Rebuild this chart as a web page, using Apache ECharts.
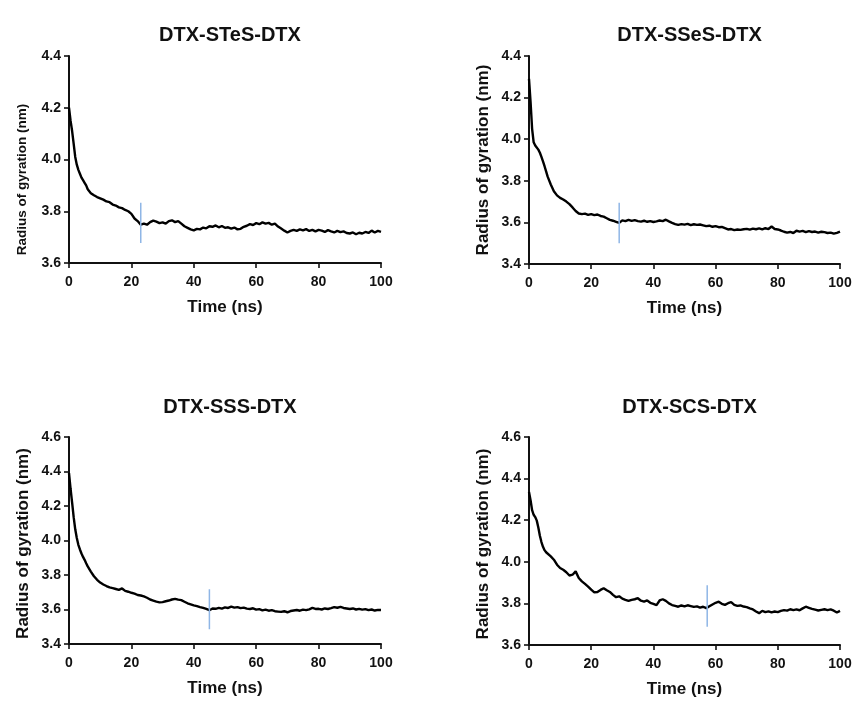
<!DOCTYPE html>
<html>
<head>
<meta charset="utf-8">
<script src="https://cdn.jsdelivr.net/npm/echarts@6/dist/echarts.min.js"></script>
<style>html,body{margin:0;padding:0;background:#fff}#c{width:855px;height:702px}</style>
</head>
<body>
<div id="c"></div>
<script>
// Time points (ns)
var timeNs = [0,0.5,1,1.5,2,2.5,3,3.5,4,4.5,5,5.5,6,7,8,9,10,11,12,13,14,15,16,17,18,19,20,21,22,23,24,25,26,27,28,29,30,31,32,33,34,35,36,37,38,39,40,41,42,43,44,45,46,47,48,49,50,51,52,53,54,55,56,57,58,59,60,61,62,63,64,65,66,67,68,69,70,71,72,73,74,75,76,77,78,79,80,81,82,83,84,85,86,87,88,89,90,91,92,93,94,95,96,97,98,99,100];

var panelTitles = ["DTX-STeS-DTX","DTX-SSeS-DTX","DTX-SSS-DTX","DTX-SCS-DTX"];

var rgSTeS = [4.20,4.15,4.11,4.06,4.01,3.98,3.96,3.945,3.93,3.92,3.91,3.90,3.885,3.87,3.862,3.855,3.850,3.845,3.838,3.835,3.826,3.822,3.815,3.812,3.805,3.80,3.79,3.772,3.762,3.748,3.752,3.748,3.758,3.764,3.760,3.754,3.757,3.752,3.762,3.765,3.758,3.762,3.752,3.742,3.736,3.730,3.726,3.732,3.730,3.737,3.734,3.742,3.740,3.745,3.738,3.743,3.736,3.738,3.733,3.737,3.730,3.732,3.740,3.744,3.750,3.747,3.754,3.750,3.757,3.752,3.755,3.748,3.752,3.741,3.733,3.725,3.718,3.724,3.728,3.724,3.730,3.726,3.731,3.724,3.728,3.722,3.728,3.725,3.720,3.727,3.722,3.718,3.724,3.719,3.722,3.716,3.714,3.718,3.711,3.717,3.714,3.720,3.716,3.725,3.718,3.724,3.720];

var rgSSeS = [4.29,4.18,4.05,3.985,3.97,3.962,3.95,3.935,3.915,3.893,3.87,3.845,3.82,3.782,3.75,3.73,3.718,3.71,3.70,3.688,3.672,3.655,3.643,3.64,3.642,3.636,3.640,3.635,3.638,3.631,3.628,3.62,3.612,3.608,3.603,3.598,3.610,3.606,3.612,3.607,3.611,3.606,3.604,3.608,3.603,3.606,3.602,3.605,3.609,3.606,3.613,3.605,3.598,3.592,3.588,3.592,3.589,3.593,3.587,3.591,3.588,3.590,3.586,3.582,3.584,3.579,3.582,3.577,3.578,3.572,3.566,3.568,3.563,3.566,3.564,3.567,3.569,3.565,3.570,3.567,3.571,3.566,3.572,3.568,3.580,3.568,3.566,3.561,3.555,3.551,3.554,3.549,3.560,3.556,3.559,3.553,3.558,3.554,3.556,3.551,3.555,3.553,3.549,3.551,3.546,3.550,3.556];

var rgSSS = [4.39,4.30,4.22,4.135,4.065,4.015,3.975,3.948,3.925,3.905,3.888,3.868,3.850,3.820,3.793,3.772,3.756,3.745,3.736,3.728,3.724,3.719,3.714,3.722,3.708,3.703,3.697,3.692,3.684,3.681,3.676,3.668,3.658,3.652,3.646,3.641,3.643,3.648,3.652,3.658,3.662,3.657,3.654,3.645,3.636,3.630,3.624,3.620,3.614,3.609,3.603,3.596,3.606,3.604,3.609,3.605,3.612,3.609,3.617,3.611,3.614,3.608,3.611,3.605,3.603,3.607,3.599,3.602,3.595,3.599,3.593,3.596,3.590,3.588,3.586,3.590,3.584,3.591,3.594,3.597,3.593,3.599,3.596,3.601,3.609,3.603,3.604,3.600,3.606,3.603,3.608,3.614,3.610,3.615,3.609,3.606,3.603,3.606,3.600,3.604,3.599,3.602,3.596,3.600,3.594,3.598,3.597];

var rgSCS = [4.336,4.296,4.248,4.226,4.215,4.198,4.165,4.125,4.095,4.072,4.056,4.046,4.040,4.026,4.010,3.986,3.970,3.962,3.950,3.934,3.938,3.954,3.922,3.906,3.894,3.881,3.866,3.853,3.855,3.865,3.873,3.863,3.855,3.841,3.830,3.834,3.823,3.817,3.812,3.817,3.820,3.825,3.813,3.808,3.814,3.803,3.798,3.792,3.814,3.820,3.812,3.800,3.792,3.788,3.784,3.790,3.786,3.791,3.787,3.783,3.786,3.780,3.784,3.777,3.786,3.795,3.803,3.808,3.798,3.793,3.801,3.806,3.793,3.788,3.790,3.785,3.782,3.776,3.771,3.761,3.753,3.764,3.758,3.762,3.757,3.761,3.758,3.764,3.768,3.765,3.772,3.768,3.771,3.767,3.776,3.784,3.779,3.774,3.770,3.766,3.769,3.772,3.768,3.771,3.765,3.756,3.764];

// Blue vertical markers
var markerTime = [23, 29, 45, 57.3];
var markerLow  = [3.677, 3.50, 3.485, 3.688];
var markerHigh = [3.833, 3.695, 3.717, 3.887];

// Y axis ranges
var yMin = [3.6, 3.4, 3.4, 3.6];
var yMax = [4.4, 4.4, 4.6, 4.6];
var xTicks = [0, 100, 20];

var seriesValues = [rgSTeS, rgSSeS, rgSSS, rgSCS];

var FONT = "'Liberation Sans', Arial, Helvetica, sans-serif";
var grids = [
  {left: 69, top: 56, width: 312, height: 207},
  {left: 529, top: 56, width: 311, height: 208},
  {left: 69, top: 437, width: 312, height: 207},
  {left: 529, top: 437, width: 311, height: 208}
];
var titleY = [20, 392];
var yNameSize = [13.5, 17, 17, 17];
var yNamePad = [[0, 40, 0, 0], [0,0,0,0], [0, 6, 0, 0], [0, 6, 0, 0]];

var option = {
  backgroundColor: '#ffffff',
  animation: false,
  title: [],
  grid: [],
  xAxis: [],
  yAxis: [],
  series: []
};

for (var i = 0; i < 4; i++) {
  var g = grids[i];
  option.grid.push({left: g.left, top: g.top, width: g.width, height: g.height, containLabel: false});
  option.title.push({
    text: panelTitles[i],
    left: g.left + g.width / 2,
    textAlign: 'center',
    top: titleY[i < 2 ? 0 : 1],
    textStyle: {fontFamily: FONT, fontWeight: 'bold', fontSize: 20, color: '#111'}
  });
  option.xAxis.push({
    type: 'value', gridIndex: i, min: xTicks[0], max: xTicks[1], interval: xTicks[2],
    name: 'Time (ns)', nameLocation: 'middle', nameGap: 36,
    nameTextStyle: {fontFamily: FONT, fontWeight: 'bold', fontSize: 17, color: '#111'},
    axisLine: {show: true, onZero: false, lineStyle: {color: '#111', width: 2}},
    axisTick: {show: true, inside: false, length: 5, lineStyle: {color: '#111', width: 1.6}},
    axisLabel: {margin: 12, fontFamily: FONT, fontWeight: 'bold', fontSize: 14, color: '#111'},
    splitLine: {show: false}
  });
  option.yAxis.push({
    type: 'value', gridIndex: i, min: yMin[i], max: yMax[i], interval: 0.2,
    name: 'Radius of gyration (nm)', nameLocation: 'middle', nameGap: i === 0 ? 40 : 37,
    nameTextStyle: {fontFamily: FONT, fontWeight: 'bold', fontSize: yNameSize[i], color: '#111', padding: yNamePad[i]},
    axisLine: {show: true, onZero: false, lineStyle: {color: '#111', width: 2}},
    axisTick: {show: true, inside: false, length: 5, lineStyle: {color: '#111', width: 1.6}},
    axisLabel: {margin: 8, fontFamily: FONT, fontWeight: 'bold', fontSize: 14, color: '#111',
      formatter: function (v) { return v.toFixed(1); }},
    splitLine: {show: false}
  });
  var pts = [];
  for (var k = 0; k < timeNs.length; k++) pts.push([timeNs[k], seriesValues[i][k]]);
  option.series.push({
    type: 'line', xAxisIndex: i, yAxisIndex: i, data: pts, showSymbol: false, symbol: 'none',
    lineStyle: {color: '#000', width: 2.4}, z: 3
  });
  option.series.push({
    type: 'line', xAxisIndex: i, yAxisIndex: i,
    data: [[markerTime[i], markerLow[i]], [markerTime[i], markerHigh[i]]],
    showSymbol: false, symbol: 'none',
    lineStyle: {color: '#8fb6e6', width: 1.5}, z: 4
  });
}

var chart = echarts.init(document.getElementById('c'), null, {renderer: 'canvas'});
chart.setOption(option);
</script>
</body>
</html>
